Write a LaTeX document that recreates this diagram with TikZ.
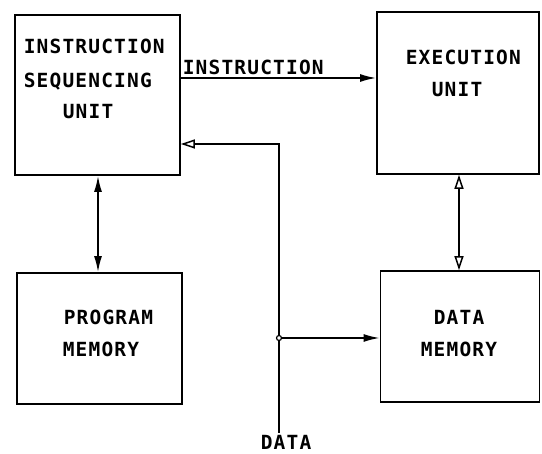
\documentclass[tikz,border=0pt]{standalone}
\usepackage{fontspec}
\newfontfamily\labelfont[LetterSpace=6]{DejaVu Sans Mono}
\usetikzlibrary{arrows.meta}
\begin{document}
\begin{tikzpicture}[x=1pt,y=-1pt,
  line width=1.7pt,
  unitbox/.style={draw, rectangle, inner sep=0pt},
  lbl/.style={anchor=base west, inner sep=0pt, font=\labelfont\bfseries\fontsize{19.5}{24}\selectfont},
  fullhead/.tip={Latex[length=16pt,width=8pt]},
  openhead/.tip={Triangle[open,length=14pt,width=9pt,line width=1.5pt]},
  solidtip/.style={-fullhead},
  opentip/.style={-openhead}]
\useasboundingbox (0,0) rectangle (542,454);

% functional blocks
\node[unitbox, minimum width=165pt, minimum height=160pt] (isu) at (97.5,95) {};
\node[unitbox, minimum width=162pt, minimum height=162pt] (eu)  at (458,93) {};
\node[unitbox, minimum width=165pt, minimum height=131pt] (pm)  at (99.5,338.5) {};
\node[unitbox, minimum width=159pt, minimum height=131pt] (dm)  at (460,336.5) {};

% block captions
\node[lbl] (isu1) at (23,54)  {INSTRUCTION};
\node[lbl] (isu2) at (23,88)  {SEQUENCING};
\node[lbl] (isu3) at (62,119) {UNIT};
\node[lbl] (eu1)  at (405,65) {EXECUTION};
\node[lbl] (eu2)  at (431,97) {UNIT};
\node[lbl] (pm1)  at (63,325) {PROGRAM};
\node[lbl] (pm2)  at (62,357) {MEMORY};
\node[lbl] (dm1)  at (433,325) {DATA};
\node[lbl] (dm2)  at (420,357) {MEMORY};

% helper coordinates for the connector routes
\coordinate (insy) at (0,78);
\coordinate (pmx)  at (98,0);
\coordinate (dmx)  at (459,0);
\coordinate (bustop) at (279,144);
\coordinate (jn)     at (279,338);
\coordinate (busbot) at (279,433);

% instruction path
\draw[solidtip] (isu.east |- insy) -- (eu.west |- insy);
\node[lbl] (inslbl) at (182,75) {INSTRUCTION};

% program memory link
\draw[fullhead-fullhead] (isu.south -| pmx) -- (pm.north -| pmx);

% execution unit to data memory link
\draw[openhead-openhead] (eu.south -| dmx) -- (dm.north -| dmx);

% external data bus
\draw[opentip] (busbot) -- (bustop) -- (isu.east |- bustop);
\draw[solidtip] (jn) -- (dm.west |- jn);
\draw[line width=1.2pt, fill=white] (jn) circle (2.5pt);
\node[lbl] (datalbl) at (260,450) {DATA};
\end{tikzpicture}
\end{document}
